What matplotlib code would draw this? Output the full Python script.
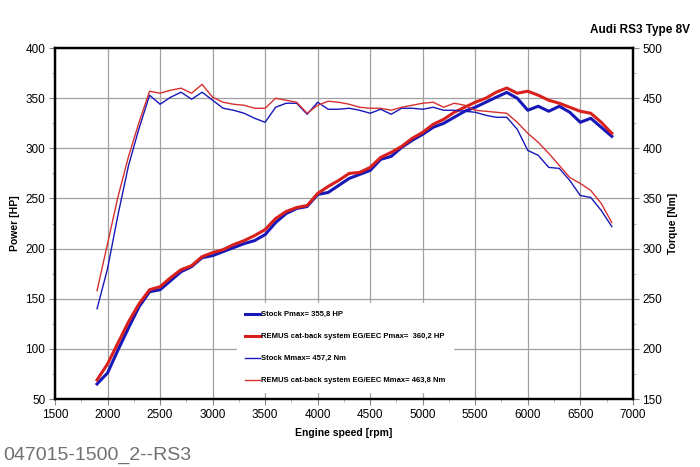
import numpy as np
import matplotlib
matplotlib.use("Agg")
import matplotlib.pyplot as plt
from matplotlib.ticker import MultipleLocator

plt.rcParams['font.family'] = ['Liberation Sans', 'DejaVu Sans']

rpm = list(range(1900, 6900, 100))

stock_hp = [65, 76, 99, 121, 142, 157, 159, 168, 177, 182,
            191, 193, 197, 201, 205, 208, 214, 226, 235, 240,
            242, 254, 256, 263, 270, 274, 278, 289, 292, 301,
            308, 314, 321, 325, 331, 337, 341, 346, 351, 355.8,
            350, 338, 342, 337, 342, 336, 326, 330, 321, 312]
remus_hp = [69, 85, 106, 127, 145, 159, 162, 171, 179, 183,
            192, 196, 199, 204, 208, 213, 219, 230, 237, 241,
            243, 255, 262, 268, 275, 276, 281, 291, 296, 302,
            310, 316, 324, 329, 336, 341, 346, 350, 356, 360.2,
            355, 357, 353, 348, 345, 341, 337, 335, 326, 315]
stock_nm = [240, 280, 334, 383, 420, 453, 444, 451, 456, 449,
            456, 448, 440, 438, 435, 430, 426, 441, 445, 445,
            434, 446, 439, 439, 440, 438, 435, 439, 434, 440,
            440, 439, 441, 438, 438, 437, 436, 433, 431, 431,
            419, 398, 393, 381, 380, 368, 353, 351, 338, 322]
remus_nm = [258, 305, 352, 392, 426, 457, 455, 458, 460, 455,
            463.8, 451, 446, 444, 443, 440, 440, 450, 448, 446,
            435, 443, 447, 446, 444, 441, 440, 440, 438, 441,
            443, 445, 446, 441, 445, 443, 438, 437, 436, 435,
            426, 415, 406, 395, 383, 371, 365, 358, 345, 326]

labels = ['Stock Pmax= 355,8 HP',
          'REMUS cat-back system EG/EEC Pmax=  360,2 HP',
          'Stock Mmax= 457,2 Nm',
          'REMUS cat-back system EG/EEC Mmax= 463,8 Nm']

blue = '#1818b8'
red = '#d8201c'

fig = plt.figure(figsize=(7, 4.67), dpi=100)
ax = fig.add_axes([0.0786, 0.1456, 0.8254, 0.7514])
ax2 = ax.twinx()

l1, = ax.plot(rpm, stock_hp, color=blue, lw=2.2)
l2, = ax.plot(rpm, remus_hp, color=red, lw=2.2)
l3, = ax2.plot(rpm, stock_nm, color=blue, lw=1.0)
l4, = ax2.plot(rpm, remus_nm, color='#d83030', lw=1.0)

ax.set_xlim(1500, 7000)
ax.set_ylim(50, 400)
ax2.set_ylim(150, 500)
ax.xaxis.set_major_locator(MultipleLocator(500))
ax.xaxis.set_minor_locator(MultipleLocator(250))
ax.yaxis.set_major_locator(MultipleLocator(50))
ax.yaxis.set_minor_locator(MultipleLocator(25))
ax2.yaxis.set_major_locator(MultipleLocator(50))
ax2.yaxis.set_minor_locator(MultipleLocator(25))
ax.grid(True, which='major', color='#a0a0a0', lw=0.9)

for a in (ax, ax2):
    a.tick_params(which='major', length=4, width=0.8, color='#888888',
                  labelsize=8.5, pad=3)
    a.tick_params(which='minor', length=2, width=0.6, color='#aaaaaa')
    for s in a.spines.values():
        s.set_linewidth(1.6)
        s.set_color('black')

ax.set_xlabel('Engine speed [rpm]', fontsize=7.5, fontweight='bold', labelpad=5)
ax.set_ylabel('Power [HP]', fontsize=7.5, fontweight='bold', labelpad=4)
ax2.set_ylabel('Torque [Nm]', fontsize=7.5, fontweight='bold', labelpad=4)

leg = ax2.legend([l1, l2, l3, l4], labels, loc='lower left',
                 bbox_to_anchor=(0.315, 0.02), frameon=True, fancybox=False,
                 prop={'size': 5.5, 'weight': 'bold'}, handlelength=2.0,
                 handletextpad=0.2, labelspacing=1.92, borderpad=1.0,
                 borderaxespad=0)
leg.get_frame().set_edgecolor('white')
leg.get_frame().set_facecolor('white')
leg.get_frame().set_alpha(1)

fig.text(0.986, 0.935, 'Audi RS3 Type 8V', ha='right', va='center',
         fontsize=8.5, fontweight='bold')
fig.text(0.004, 0.024, '047015-1500_2--RS3', ha='left', va='center',
         fontsize=14, color='#707070')

fig.savefig('out.png', dpi=100)
